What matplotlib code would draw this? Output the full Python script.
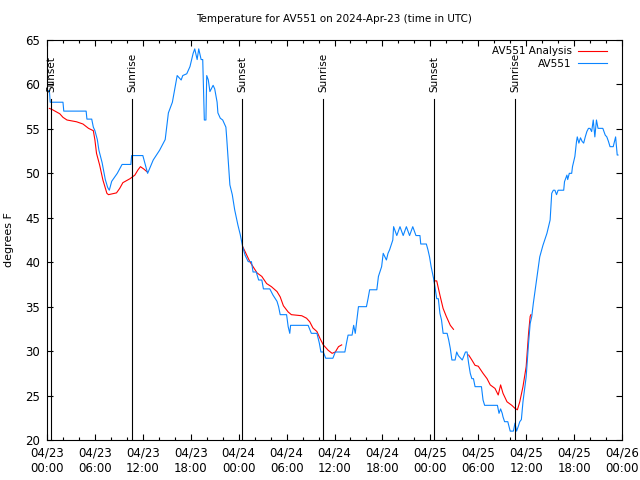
import numpy as np
import matplotlib
matplotlib.use("Agg")
import matplotlib.pyplot as plt

# hours since 2024-04-23 00:00 UTC
obs_hours = [0.0, 0.3, 0.4, 2.0, 2.1, 4.9, 5.0, 5.6, 5.8, 6.0, 6.3, 6.5, 6.9, 7.3, 7.6, 7.8,
             8.1, 8.8, 9.4, 10.5, 10.6, 12.0, 12.6, 13.3, 14.1, 14.8, 15.2, 15.7, 16.3, 16.8,
             17.0, 17.5, 17.9, 18.3, 18.5, 18.8, 19.0, 19.3, 19.5, 19.7, 19.9, 20.0, 20.2,
             20.4, 20.8, 21.0, 21.3, 21.4, 21.7, 22.0, 22.4, 22.5, 22.9, 23.2, 23.5, 23.9,
             24.2, 24.5, 24.8, 25.2, 25.6, 25.8, 26.2, 26.5, 26.9, 27.1, 27.9, 28.3, 28.8,
             29.0, 29.2, 30.0, 30.2, 30.4, 30.5, 32.7, 33.1, 33.8, 34.1, 34.3, 34.6, 34.9,
             35.8, 36.1, 37.3, 37.5, 37.7, 38.2, 38.4, 38.6, 38.8, 39.0, 40.0, 40.2, 40.4,
             41.3, 41.5, 41.9, 42.1, 42.5, 42.7, 42.9, 43.3, 43.4, 43.8, 44.2, 44.6, 45.0,
             45.4, 45.8, 46.2, 46.7, 46.8, 47.5, 47.7, 47.9, 48.1, 48.4, 48.6, 48.8, 49.0,
             49.2, 49.4, 49.6, 50.1, 50.3, 50.5, 50.7, 51.1, 51.3, 51.5, 51.7, 52.0, 52.4,
             52.6, 52.8, 53.0, 53.2, 53.4, 53.6, 54.4, 54.6, 54.8, 56.4, 56.6, 56.8, 57.0,
             57.1, 57.3, 57.7, 58.0, 58.4, 58.6, 58.8, 59.0, 59.2, 59.4, 59.6, 60.0, 60.3,
             60.5, 60.7, 60.9, 61.1, 61.3, 61.5, 61.7, 62.1, 62.6, 63.0, 63.2, 63.4, 63.6,
             63.8, 64.0, 64.7, 64.8, 65.1, 65.2, 65.4, 65.7, 65.8, 66.1, 66.3, 66.4, 66.6,
             66.8, 67.0, 67.2, 67.4, 67.6, 67.8, 68.0, 68.2, 68.4, 68.6, 68.8, 69.0, 69.6,
             69.9, 70.1, 70.3, 70.5, 70.9, 71.1, 71.2, 71.4, 71.5]
obs_temp = [59.3, 59.3, 58.0, 58.0, 57.0, 57.0, 56.1, 56.1, 55.2, 54.8, 53.8, 52.6, 51.2, 49.3, 48.4, 48.1,
            49.1, 50.0, 51.0, 51.0, 52.0, 52.0, 50.0, 51.5, 52.6, 53.8, 56.8, 58.0, 61.0, 60.5,
            61.0, 61.2, 62.0, 63.5, 64.0, 62.8, 64.0, 62.8, 62.8, 56.0, 56.0, 61.0, 60.5,
            59.2, 59.9, 59.5, 58.0, 56.8, 56.2, 56.0, 55.2, 54.0, 48.7, 47.6, 45.9, 44.2,
            43.1, 41.75, 40.8, 40.06, 40.06, 38.9, 38.9, 38.0, 38.0, 37.0, 37.0, 36.3, 35.6,
            35.0, 34.1, 34.1, 32.75, 32.0, 32.9, 32.9, 32.0, 32.0, 30.9, 29.9, 29.9, 29.2,
            29.2, 29.9, 29.9, 30.9, 31.8, 31.8, 32.9, 32.0, 33.5, 35.0, 35.0, 35.9, 36.9,
            36.9, 38.4, 39.5, 41.0, 40.25, 41.0, 41.4, 42.5, 44.0, 43.0, 44.0, 43.0, 44.0,
            43.0, 44.0, 43.0, 43.0, 42.05, 42.05, 41.4, 40.6, 39.5, 38.2, 37.1, 35.9, 35.9,
            34.25, 33.5, 32.0, 32.0, 31.25, 30.3, 29.0, 29.0, 29.9, 29.5, 29.3, 29.0, 29.9,
            29.9, 28.6, 27.5, 26.9, 26.9, 26.0, 26.0, 24.5, 23.9, 23.9, 23.0, 23.5, 23.0,
            22.6, 22.06, 22.06, 21.0, 21.0, 21.9, 21.0, 21.5, 22.06, 22.3, 24.3, 27.1, 30.9,
            33.1, 33.9, 35.4, 36.7, 38.0, 39.3, 40.6, 41.9, 43.25, 44.75, 47.75, 48.1, 48.1,
            47.6, 48.1, 48.1, 49.06, 49.8, 49.3, 50.0, 50.0, 50.75, 51.9, 53.56, 54.1, 53.4,
            54.0, 53.6, 53.4, 54.1, 54.7, 55.06, 55.06, 54.7, 56.0, 54.1, 56.0, 55.06, 55.06,
            54.3, 54.1, 53.6, 53.0, 53.0, 53.75, 54.1, 52.06, 52.06]

# analysis segments (gaps between them)
ana_hours = [
    [0.3, 0.6, 1.6, 2.0, 2.5, 3.7, 4.5, 5.2, 5.8, 6.0, 6.2, 6.6, 7.0, 7.5, 7.7, 8.7, 9.1,
     9.5, 10.4, 11.0, 11.4, 11.7, 12.1, 12.5],
    [24.5, 24.8, 25.4, 26.3, 26.9, 27.5, 28.1, 28.8, 29.2, 29.6, 30.2, 30.6, 31.9, 32.5,
     32.9, 33.3, 33.8, 34.2, 34.6, 35.2, 35.7, 36.1, 36.5, 36.9],
    [48.5, 48.8, 49.2, 49.6, 50.0, 50.5, 50.9],
    [52.8, 53.2, 53.6, 54.0, 54.6, 55.1, 55.5, 56.1, 56.5, 56.8, 57.1, 57.6, 58.2, 58.6,
     58.9, 59.2, 59.6, 60.0, 60.3, 60.5, 60.6],
]
ana_temp = [
    [57.3, 57.2, 56.7, 56.3, 56.0, 55.8, 55.55, 55.06, 54.8, 53.75, 52.25, 50.9, 49.25,
     47.75, 47.6, 47.8, 48.3, 48.95, 49.4, 49.8, 50.4, 50.75, 50.5, 50.2],
    [41.75, 41.2, 40.06, 38.8, 38.4, 37.6, 37.25, 36.7, 36.1, 35.1, 34.4, 34.1, 33.98, 33.7,
     33.3, 32.6, 32.2, 31.4, 30.7, 30.1, 29.75, 29.9, 30.5, 30.7],
    [37.9, 37.9, 36.3, 34.8, 33.9, 32.9, 32.45],
    [29.56, 29.0, 28.4, 28.3, 27.5, 26.9, 26.2, 25.8, 25.06, 26.2, 25.25, 24.3, 23.9, 23.56,
     23.4, 24.3, 26.0, 28.25, 32.0, 33.9, 34.1],
]

sun_hours = [0.5, 10.64, 24.42, 34.56, 48.46, 58.6]
sun_labels = ["Sunset", "Sunrise", "Sunset", "Sunrise", "Sunset", "Sunrise"]

tick_hours = list(range(0, 73, 6))
tick_labels = ["04/23\n00:00", "04/23\n06:00", "04/23\n12:00", "04/23\n18:00",
               "04/24\n00:00", "04/24\n06:00", "04/24\n12:00", "04/24\n18:00",
               "04/25\n00:00", "04/25\n06:00", "04/25\n12:00", "04/25\n18:00",
               "04/26\n00:00"]

plt.rcParams['font.family'] = ['DejaVu Sans']
fig = plt.figure(figsize=(6.4, 4.8), dpi=100)
ax = fig.add_axes([47/640, 40/480, 575/640, 400/480])

red = '#ff0000'
blue = '#0a84ff'

for i, (hh, tt) in enumerate(zip(ana_hours, ana_temp)):
    ax.plot(hh, tt, color=red, lw=0.8, label="AV551 Analysis" if i == 0 else None)
ax.plot(obs_hours, obs_temp, color=blue, lw=0.8, label="AV551")

for h, lab in zip(sun_hours, sun_labels):
    ax.plot([h, h], [20, 58.4], color='black', lw=0.8)
    ax.text(h, 59.1, lab, rotation=90, ha='center', va='bottom', fontsize=7.5)

ax.set_xlim(0, 72)
ax.set_ylim(20, 65)
ax.set_xticks(tick_hours)
ax.set_xticklabels(tick_labels)
ax.set_xticks(np.arange(0, 73, 2), minor=True)
ax.set_yticks(np.arange(20, 66, 5))
ax.tick_params(which='both', direction='in', top=True, right=True, labelsize=8.5, width=0.8)
ax.tick_params(which='major', length=4.5, pad=5)
ax.tick_params(which='minor', length=2.5)
for s in ax.spines.values():
    s.set_linewidth(0.8)

ax.set_ylabel("degrees F", fontsize=8, labelpad=8)
ax.set_title("Temperature for AV551 on 2024-Apr-23 (time in UTC)", fontsize=7.5, pad=13)

ax.legend(loc='upper right', frameon=False, markerfirst=False, fontsize=7.5,
          handlelength=2.8, handletextpad=0.6, labelspacing=0.25,
          borderaxespad=0.2, bbox_to_anchor=(0.985, 1.0))

fig.savefig("out.png", dpi=100)
